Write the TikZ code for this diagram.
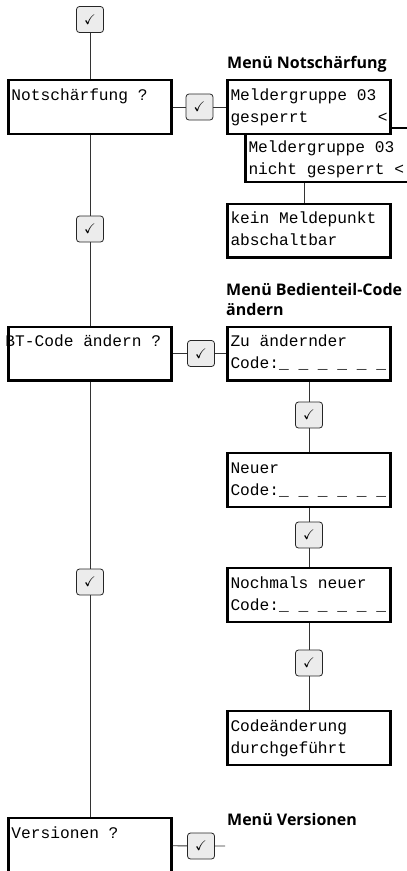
\documentclass[tikz,border=0pt]{standalone}
\usepackage{amssymb}
\usepackage{fontspec}
\newfontfamily\lcdfont{Liberation Mono}
\newfontfamily\titlefont{Open Sans}
\usetikzlibrary{positioning,calc}

\begin{document}
\begin{tikzpicture}[x=1pt, y=-1pt,
    lcd box/.style={draw, fill=white, line width=2.4pt, text width=157pt, inner sep=3pt,
        text height=16.8pt, text depth=30.8pt, align=left,
        font=\lcdfont\fontsize{16.2}{22}\selectfont,
        execute at begin node={\spaceskip=0pt\xspaceskip=0pt\relax}},
    ok key/.style={draw=black!85, fill=gray!15, rounded corners=3pt, line width=0.8pt,
        minimum width=27pt, minimum height=26pt, inner sep=0pt, font=\fontsize{14}{14}\selectfont},
    menu title/.style={anchor=base west, inner sep=0pt, text width=190pt, align=left,
        font=\titlefont\bfseries\fontsize{16}{20}\selectfont,
        execute at begin node={\spaceskip=0pt\xspaceskip=0pt\relax}},
    link/.style={line width=0.9pt, draw=black!80}]
    \useasboundingbox (0,0) rectangle (407,871);

    % Main menu column
    \node[ok key] (okTop) at (90,19.5) {$\checkmark$};
    \node[lcd box] (notsch) at (90,107) {Notschärfung ?\\\mbox{}};
    \node[ok key] (okMain1) at (90,229) {$\checkmark$};
    \node[lcd box] (btcode) at (90,353.5) {\hspace*{-6pt}BT-Code ändern ?\\\mbox{}};
    \node[ok key] (okMain2) at (90,582) {$\checkmark$};
    \node[lcd box] (versionen) at (90,845) {Versionen ?\\\mbox{}};

    % Menu Notschaerfung
    \node[menu title] (titleNotsch) at (227,68) {Menü Notschärfung};
    \node[ok key] (okNotsch) at (199.5,107) {$\checkmark$};
    \node[lcd box, text height=20.8pt, text depth=26.8pt] (mgFree) at (327,155)
        {Meldergruppe 03\\nicht gesperrt <};
    \node[lcd box] (mgLocked) at (309,107) {Meldergruppe 03\\gesperrt\hfill<\hspace*{4pt}};
    \node[lcd box] (keinMp) at (309,230.5) {kein Meldepunkt\\abschaltbar};

    % Menu Bedienteil-Code aendern
    \node[menu title] (titleCode) at (226,295) {Menü Bedienteil-Code\\ändern};
    \node[ok key] (okCode) at (201,353.5) {$\checkmark$};
    \node[lcd box] (oldCode) at (309,353.5) {Zu ändernder\\Code:\_ \_ \_ \_ \_ \_};
    \node[ok key] (okOld) at (309,415) {$\checkmark$};
    \node[lcd box] (newCode) at (309,480) {Neuer\\Code:\_ \_ \_ \_ \_ \_};
    \node[ok key] (okNew) at (309,535) {$\checkmark$};
    \node[lcd box] (againCode) at (309,595) {Nochmals neuer\\Code:\_ \_ \_ \_ \_ \_};
    \node[ok key] (okAgain) at (309,663) {$\checkmark$};
    \node[lcd box] (doneCode) at (309,738) {Codeänderung\\durchgeführt};

    % Menu Versionen
    \node[menu title] (titleVers) at (227,825) {Menü Versionen};
    \node[ok key] (okVers) at (201,846) {$\checkmark$};
    \coordinate (versEnd) at (225,846);

    % Connections
    \draw[link] (okTop) -- (notsch);
    \draw[link] (notsch) -- (okMain1) -- (btcode) -- (okMain2) -- (versionen);
    \draw[link] (notsch) -- (okNotsch) -- (mgLocked);
    \draw[link] ([xshift=-5pt]keinMp.north) -- ([xshift=-5pt]keinMp.north |- mgFree.south);
    \draw[link] (btcode) -- (okCode) -- (oldCode);
    \draw[link] (oldCode) -- (okOld) -- (newCode) -- (okNew) -- (againCode) -- (okAgain) -- (doneCode);
    \draw[link] (versionen) -- (okVers) -- (versEnd);

\end{tikzpicture}
\end{document}
